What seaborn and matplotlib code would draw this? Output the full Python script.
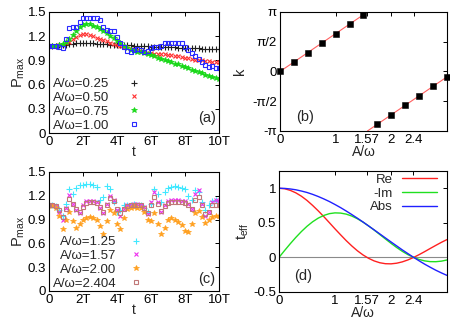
import matplotlib
matplotlib.use('Agg')
import matplotlib.pyplot as plt
import seaborn as sns
import numpy as np
import pandas as pd

# ---------------- data ----------------
t_grid = [0.0, 0.2, 0.4, 0.6, 0.8, 1.0, 1.2, 1.4, 1.6, 1.8, 2.0, 2.2, 2.4, 2.6, 2.8,
          3.0, 3.2, 3.4, 3.6, 3.8, 4.0, 4.2, 4.4, 4.6, 4.8, 5.0, 5.2, 5.4, 5.6, 5.8,
          6.0, 6.2, 6.4, 6.6, 6.8, 7.0, 7.2, 7.4, 7.6, 7.8, 8.0, 8.2, 8.4, 8.6, 8.8,
          9.0, 9.2, 9.4, 9.6, 9.8, 10.0]

# panel (a)
pa_025 = [1.08, 1.08, 1.08, 1.085, 1.09, 1.095, 1.10, 1.105, 1.11, 1.112, 1.115, 1.115, 1.113,
          1.11, 1.108, 1.105, 1.10, 1.098, 1.095, 1.093, 1.092, 1.091, 1.09, 1.088, 1.086, 1.084,
          1.082, 1.08, 1.077, 1.074, 1.071, 1.07, 1.068, 1.066, 1.065, 1.063, 1.061, 1.06, 1.058,
          1.056, 1.055, 1.053, 1.051, 1.05, 1.048, 1.046, 1.045, 1.043, 1.041, 1.04, 1.038]
pa_050 = [1.08, 1.08, 1.08, 1.085, 1.095, 1.11, 1.13, 1.16, 1.19, 1.21, 1.225, 1.225, 1.215,
          1.20, 1.18, 1.165, 1.15, 1.135, 1.12, 1.105, 1.09, 1.075, 1.065, 1.05, 1.04, 1.035,
          1.03, 1.02, 1.005, 0.995, 0.99, 0.985, 0.985, 0.98, 0.975, 0.97, 0.965, 0.96, 0.955,
          0.945, 0.935, 0.925, 0.92, 0.91, 0.905, 0.90, 0.895, 0.89, 0.885, 0.88, 0.875]
pa_075 = [1.08, 1.08, 1.08, 1.085, 1.10, 1.13, 1.17, 1.22, 1.27, 1.31, 1.34, 1.355, 1.345,
          1.33, 1.31, 1.285, 1.26, 1.235, 1.205, 1.175, 1.145, 1.11, 1.08, 1.055, 1.035, 1.02,
          1.01, 1.0, 0.99, 0.975, 0.965, 0.95, 0.935, 0.915, 0.90, 0.89, 0.875, 0.86, 0.85,
          0.835, 0.82, 0.80, 0.785, 0.77, 0.755, 0.74, 0.725, 0.71, 0.695, 0.685, 0.675]
pa_100 = [1.08, 1.08, 1.08, 1.06, 1.05, 1.17, 1.30, 1.32, 1.31, 1.37, 1.42, 1.43, 1.43,
          1.43, 1.42, 1.40, 1.32, 1.28, 1.27, 1.26, 1.19, 1.11, 1.06, 1.02, 1.01, 1.03,
          1.04, 1.03, 1.01, 1.02, 1.05, 1.06, 1.07, 1.08, 1.11, 1.12, 1.12, 1.11, 1.12,
          1.11, 1.07, 1.03, 0.99, 0.95, 0.92, 0.88, 0.84, 0.82, 0.83, 0.81, 0.80]

# panel (c)
pc_125 = [1.08, 1.08, 1.07, 1.02, 0.94, 1.10, 1.28, 1.22, 1.30, 1.33, 1.34, 1.35, 1.35,
          1.34, 1.31, 1.15, 1.18, 1.32, 1.28, 1.12, 1.00, 1.02, 1.08, 1.09, 1.09, 1.10,
          1.09, 1.08, 1.05, 1.00, 1.10, 1.28, 1.22, 1.12, 1.25, 1.30, 1.31, 1.32, 1.31,
          1.30, 1.28, 1.20, 1.15, 1.27, 1.25, 1.12, 1.02, 1.08, 1.14, 1.15, 1.14]
pc_157 = [1.08, 1.08, 1.07, 1.00, 0.90, 1.05, 1.21, 1.10, 1.02, 0.98, 1.08, 1.13, 1.14,
          1.13, 1.12, 1.05, 0.98, 1.10, 1.20, 1.15, 1.02, 0.95, 1.03, 1.08, 1.09, 1.10,
          1.10, 1.09, 1.06, 0.97, 1.12, 1.25, 1.12, 1.00, 1.08, 1.13, 1.15, 1.15, 1.15,
          1.14, 1.14, 1.10, 1.03, 1.22, 1.27, 1.10, 0.94, 1.00, 1.12, 1.15, 1.14]
pc_200 = [1.08, 1.07, 1.05, 0.95, 0.78, 0.90, 1.00, 0.88, 0.80, 0.84, 0.90, 0.92, 0.93,
          0.92, 0.90, 0.82, 0.72, 0.88, 1.02, 0.98, 0.85, 0.78, 0.92, 1.03, 1.05, 1.06,
          1.05, 1.04, 1.00, 0.90, 0.88, 0.98, 0.85, 0.72, 0.80, 0.90, 0.92, 0.90, 0.87,
          0.83, 0.76, 0.74, 0.85, 0.98, 1.01, 0.93, 0.86, 0.90, 0.93, 0.95, 0.95]
pc_2404 = [1.08, 1.08, 1.07, 1.02, 0.93, 1.03, 1.16, 1.10, 1.03, 1.00, 1.06, 1.11, 1.12,
           1.12, 1.11, 1.06, 1.00, 1.08, 1.17, 1.13, 1.03, 0.98, 1.03, 1.07, 1.08, 1.09,
           1.09, 1.08, 1.05, 0.98, 1.08, 1.18, 1.10, 1.01, 1.07, 1.11, 1.12, 1.12, 1.12,
           1.12, 1.11, 1.08, 1.03, 1.15, 1.18, 1.08, 0.97, 1.00, 1.08, 1.09, 1.08]

time_ticks = [0, 2, 4, 6, 8, 10]
time_ticklabels = ['0', '2T', '4T', '6T', '8T', '10T']
p_ticks = [0, 0.3, 0.6, 0.9, 1.2, 1.5]
p_ticklabels = ['0', '0.3', '0.6', '0.9', '1.2', '1.5']

# panel (b)
b_points_x = [0.0, 0.25, 0.5, 0.75, 1.0, 1.25, 1.5, 1.75, 2.0, 2.25, 2.5, 2.75, 3.0]
b_points_k = [0.0, 0.5, 1.0, 1.5, 2.0, 2.5, 3.0, -2.78, -2.28, -1.78, -1.28, -0.78, -0.28]
b_line1_x = [0.0, 1.5708]
b_line1_k = [0.0, 3.1416]
b_line2_x = [1.5708, 3.0]
b_line2_k = [-3.1416, -0.2832]
b_xticks = [0, 1, 1.57, 2, 2.4]
b_xticklabels = ['0', '1', '1.57', '2', '2.4']
b_yticks = [-3.1416, -1.5708, 0, 1.5708, 3.1416]
b_yticklabels = ['-π', '-π/2', '0', 'π/2', 'π']

# panel (d)
d_x = [0.0, 0.1, 0.2, 0.3, 0.4, 0.5, 0.6, 0.7, 0.8, 0.9, 1.0, 1.1, 1.2, 1.3, 1.4, 1.5,
       1.6, 1.7, 1.8, 1.9, 2.0, 2.1, 2.2, 2.3, 2.4, 2.5, 2.6, 2.7, 2.8, 2.9, 3.0]
d_re = [1.0, 0.993, 0.970, 0.934, 0.885, 0.824, 0.752, 0.674, 0.590, 0.502, 0.413, 0.327,
        0.243, 0.166, 0.096, 0.036, -0.013, -0.051, -0.077, -0.091, -0.093, -0.084, -0.065,
        -0.037, -0.002, 0.039, 0.083, 0.129, 0.174, 0.218, 0.258]
d_mim = [0.0, 0.100, 0.197, 0.289, 0.374, 0.450, 0.515, 0.568, 0.607, 0.633, 0.644, 0.641,
         0.626, 0.598, 0.559, 0.511, 0.455, 0.395, 0.331, 0.267, 0.204, 0.144, 0.089, 0.041,
         0.002, -0.029, -0.050, -0.061, -0.062, -0.054, -0.037]
d_abs = [1.0, 0.998, 0.990, 0.978, 0.960, 0.939, 0.912, 0.881, 0.846, 0.808, 0.765, 0.720,
         0.671, 0.620, 0.567, 0.512, 0.455, 0.398, 0.340, 0.282, 0.224, 0.167, 0.110, 0.056,
         0.003, -0.048, -0.097, -0.142, -0.185, -0.224, -0.260]
d_xticks = [0, 1, 1.57, 2, 2.4]
d_xticklabels = ['0', '1', '1.57', '2', '2.4']
d_yticks = [-0.5, 0, 0.5, 1]
d_yticklabels = ['-0.5', '0', '0.5', '1']

# ---------------- style ----------------
sns.set_style('white')
plt.rcParams['font.family'] = ['Liberation Sans', 'DejaVu Sans']
plt.rcParams['mathtext.default'] = 'regular'
FS = 9.5

fig = plt.figure(figsize=(4.5, 3.24), dpi=100)

def frame(ax):
    for s in ax.spines.values():
        s.set_color('black')
        s.set_linewidth(0.8)
        s.set_visible(True)
    ax.tick_params(direction='in', length=3, width=0.7, top=True, right=True,
                   labelsize=FS, pad=2, colors='black')
    ax.set_facecolor('white')

ax_a = fig.add_axes([0.1089, 0.5895, 0.3778, 0.3735])
ax_b = fig.add_axes([0.6222, 0.5957, 0.3711, 0.3673])
ax_c = fig.add_axes([0.1089, 0.1019, 0.3778, 0.3673])
ax_d = fig.add_axes([0.6200, 0.0988, 0.3733, 0.3735])

def pts(ax, y, marker, color, label, ms=3.6, open_sq=False, mew=0.8):
    df = pd.DataFrame({'t': t_grid, 'p': y})
    kw = dict(marker=marker, linestyle='none', color=color, markersize=ms,
              markeredgewidth=mew, markeredgecolor=color, label=label)
    if open_sq:
        kw['markerfacecolor'] = 'none'
    else:
        kw['markerfacecolor'] = color
    sns.lineplot(data=df, x='t', y='p', ax=ax, estimator=None, sort=False, **kw)

# ---- (a)
pts(ax_a, pa_025, '+', '#202020', 'A/ω=0.25', ms=3.8)
pts(ax_a, pa_050, 'x', '#ff3030', 'A/ω=0.50', ms=3.2)
pts(ax_a, pa_075, '*', '#18d818', 'A/ω=0.75', ms=4.4, mew=0.5)
pts(ax_a, pa_100, 's', '#2a2aff', 'A/ω=1.00', ms=3.5, open_sq=True)

# ---- (c)
pts(ax_c, pc_125, '+', '#40e8ff', 'A/ω=1.25', ms=3.8)
pts(ax_c, pc_157, 'x', '#ee30ee', 'A/ω=1.57', ms=3.2)
pts(ax_c, pc_200, '*', '#ffa020', 'A/ω=2.00', ms=4.4, mew=0.5)
pts(ax_c, pc_2404, 's', '#c07878', 'A/ω=2.404', ms=3.5, open_sq=True)

for ax, lab, pad in [(ax_a, '(a)', 1.4), (ax_c, '(c)', 1.0)]:
    frame(ax)
    ax.set_xlim(0, 10)
    ax.set_ylim(0, 1.5)
    ax.set_xticks(time_ticks)
    ax.set_xticklabels(time_ticklabels)
    ax.set_yticks(p_ticks)
    ax.set_yticklabels(p_ticklabels)
    ax.set_xlabel('t', fontsize=FS + 0.5)
    ax.set_ylabel('$P_{max}$', fontsize=FS + 1)
    ax.xaxis.set_label_coords(0.5, -0.1)
    ax.yaxis.set_label_coords(-0.13, 0.5)
    ax.text(0.929, 0.125 if lab == '(a)' else 0.10, lab, transform=ax.transAxes,
            ha='center', va='center', fontsize=FS + 1)
    leg = ax.legend(loc='lower left', bbox_to_anchor=(0.015, 0.0), markerfirst=False,
                    frameon=False, fontsize=FS, handlelength=1.0, handletextpad=pad,
                    labelspacing=0.12, borderpad=0.1, borderaxespad=0.0)

# ---- (b)
sns.lineplot(x=b_line1_x, y=b_line1_k, ax=ax_b, color='#ff6060', lw=0.8)
sns.lineplot(x=b_line2_x, y=b_line2_k, ax=ax_b, color='#ff6060', lw=0.8)
sns.scatterplot(x=b_points_x, y=b_points_k, ax=ax_b, marker='s', color='black',
                edgecolor='black', s=22, zorder=5, clip_on=False)
frame(ax_b)
ax_b.set_xlim(0, 3)
ax_b.set_ylim(-3.1416, 3.1416)
ax_b.set_xticks(b_xticks)
ax_b.set_xticklabels(b_xticklabels)
ax_b.set_yticks(b_yticks)
ax_b.set_yticklabels(b_yticklabels)
ax_b.set_xlabel('A/ω', fontsize=FS + 0.5)
ax_b.set_ylabel('k', fontsize=FS + 1)
ax_b.xaxis.set_label_coords(0.5, -0.115)
ax_b.yaxis.set_label_coords(-0.2, 0.5)
ax_b.text(0.15, 0.118, '(b)', transform=ax_b.transAxes, ha='center', va='center',
          fontsize=FS + 1)

# ---- (d)
ax_d.axhline(0, color='#8a8a8a', lw=0.8, zorder=1)
sns.lineplot(x=d_x, y=d_re, ax=ax_d, color='#ff2020', lw=1.0, label='Re')
sns.lineplot(x=d_x, y=d_mim, ax=ax_d, color='#20e020', lw=1.0, label='-Im')
sns.lineplot(x=d_x, y=d_abs, ax=ax_d, color='#2020ff', lw=1.0, label='Abs')
frame(ax_d)
ax_d.set_xlim(0, 3)
ax_d.set_ylim(-0.5, 1.25)
ax_d.set_xticks(d_xticks)
ax_d.set_xticklabels(d_xticklabels)
ax_d.set_yticks(d_yticks)
ax_d.set_yticklabels(d_yticklabels)
ax_d.set_xlabel('A/ω', fontsize=FS + 0.5)
ax_d.set_ylabel('$t_{eff}$', fontsize=FS + 1)
ax_d.xaxis.set_label_coords(0.5, -0.115)
ax_d.yaxis.set_label_coords(-0.165, 0.5)
ax_d.text(0.143, 0.132, '(d)', transform=ax_d.transAxes, ha='center', va='center',
          fontsize=FS + 1)
ax_d.legend(loc='upper right', bbox_to_anchor=(0.95, 0.99), markerfirst=False,
            frameon=False, fontsize=FS, handlelength=2.7, handletextpad=0.7,
            labelspacing=0.12, borderpad=0.1, borderaxespad=0.0)

fig.savefig('out.png', dpi=100)
